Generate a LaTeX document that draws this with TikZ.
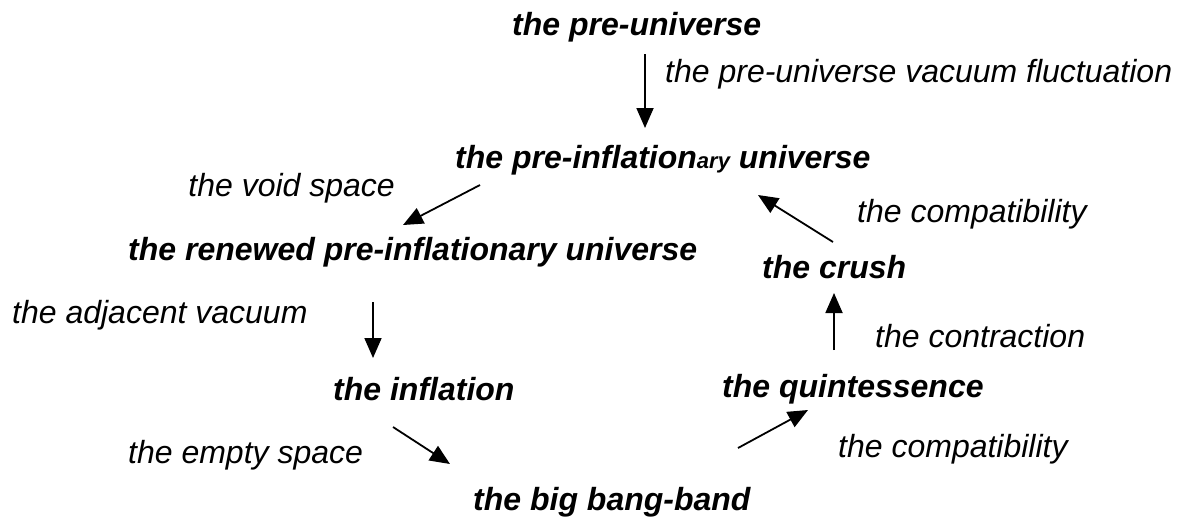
\documentclass[tikz,border=0pt]{standalone}
\usepackage{fontspec}
\setmainfont{Liberation Sans}
\usetikzlibrary{arrows.meta}

\begin{document}
\begin{tikzpicture}[x=1pt, y=-1pt,
  every node/.style={inner sep=0pt, anchor=base west},
  stage/.style={font=\fontsize{32}{38}\selectfont\bfseries\itshape},
  note/.style={font=\fontsize{32}{38}\selectfont\itshape},
  flow/.style={-{Triangle[length=20pt,width=17pt]}, line width=1.8pt}]

\useasboundingbox (0,0) rectangle (1182,523);

% Stages of the cycle (base lines at the measured positions)
\node[stage] (preuniv) at (512,35) {the pre-universe};
\node[stage] (preinfl) at (455,168) {the pre-inflation{\fontsize{22}{26}\selectfont ary} universe};
\node[stage] (renewed) at (128,260) {the renewed pre-inflationary universe};
\node[stage] (crush) at (762,278) {the crush};
\node[stage] (inflation) at (333,400) {the inflation};
\node[stage] (quint) at (722,397) {the quintessence};
\node[stage] (bigbang) at (473,510) {the big bang-band};

% Labels of the transitions
\node[note] (fluct) at (665,82) {the pre-universe vacuum fluctuation};
\node[note, anchor=base east] (void) at (395,196) {the void space};
\node[note] (compup) at (857,222) {the compatibility};
\node[note] (adjac) at (12,323) {the adjacent vacuum};
\node[note] (contr) at (875,347) {the contraction};
\node[note] (empty) at (128,463) {the empty space};
\node[note] (complow) at (838,457) {the compatibility};

% Arrow end points
\coordinate (a1s) at (645,54);  \coordinate (a1e) at (645,128);
\coordinate (a2s) at (480,185); \coordinate (a2e) at (403,225);
\coordinate (a3s) at (373,302); \coordinate (a3e) at (373,358);
\coordinate (a4s) at (393,427); \coordinate (a4e) at (450,464);
\coordinate (a5s) at (738,448); \coordinate (a5e) at (808,410);
\coordinate (a6s) at (834,350); \coordinate (a6e) at (834,293);
\coordinate (a7s) at (833,242); \coordinate (a7e) at (758,195);

% Draw the arrows
\draw[flow] (a1s) -- (a1e);
\draw[flow] (a2s) -- (a2e);
\draw[flow] (a3s) -- (a3e);
\draw[flow] (a4s) -- (a4e);
\draw[flow] (a5s) -- (a5e);
\draw[flow] (a6s) -- (a6e);
\draw[flow] (a7s) -- (a7e);
\end{tikzpicture}
\end{document}
